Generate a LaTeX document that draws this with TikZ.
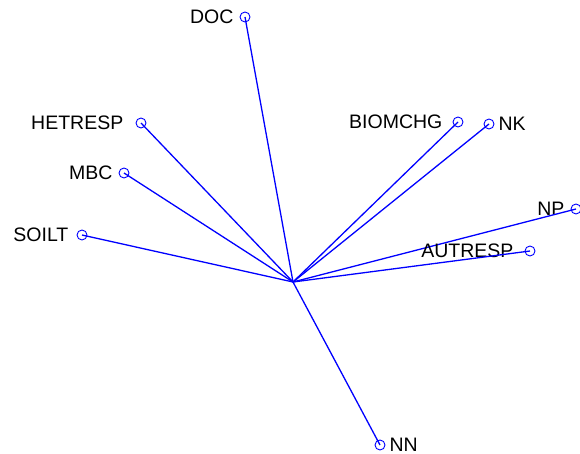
\documentclass[tikz,border=0pt]{standalone}
\usepackage{fontspec}
\setmainfont{Liberation Sans}
\usetikzlibrary{positioning}
\definecolor{loadblue}{RGB}{0,0,255}
\tikzset{
  loadtip/.style={draw=loadblue,circle,line width=0.9pt,minimum size=10pt,inner sep=0pt},
  loadline/.style={draw=loadblue,line width=1.3pt},
  loadlabel/.style={font=\fontsize{19.5}{21}\selectfont,text=black,inner sep=0pt},
}
\begin{document}
\begin{tikzpicture}[x=1pt,y=-1pt]
        \path[use as bounding box] (0,0) rectangle (580,454);
        \coordinate (ctr) at (293,282);
        \foreach \name/\x/\y/\side/\gap/\txt in {doc/245/17/left/6/DOC,
            hetresp/141/123/left/12/HETRESP,mbc/124/173/left/6/MBC,
            soilt/82/235/left/8/SOILT,biomchg/458/122/left/10/BIOMCHG,
            nk/489/124/right/4/NK,np/576/209/left/6/NP,
            autresp/530/251/left/11/AUTRESP,nn/380/445/right/4/NN}
          {\node[loadtip,label={[loadlabel,label distance=\gap pt]\side:\txt}] (\name) at (\x,\y) {};
           \draw[loadline] (ctr) -- (\name.center);}
      \end{tikzpicture}
\end{document}
